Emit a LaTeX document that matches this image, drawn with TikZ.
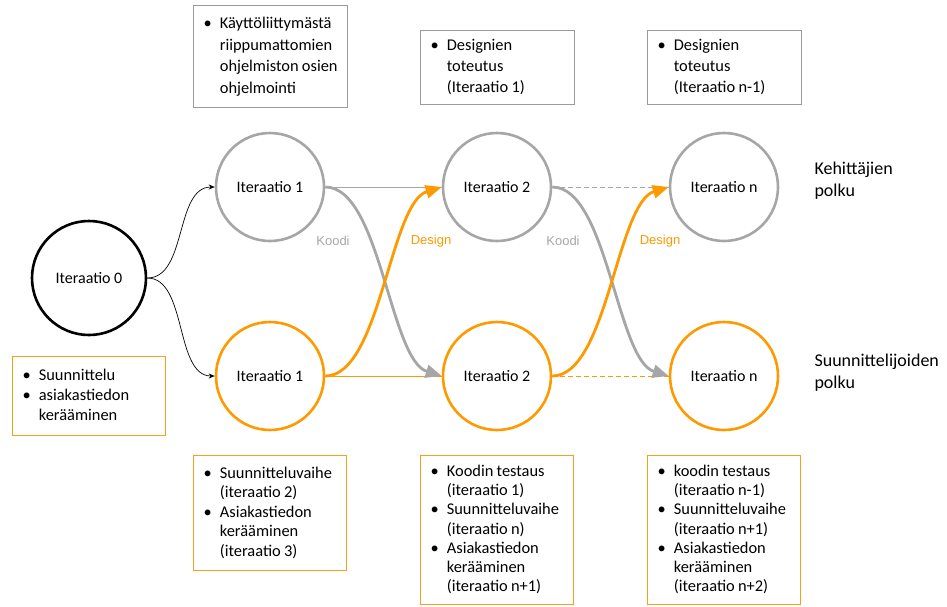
\documentclass[tikz,border=0pt]{standalone}
\usepackage{fontspec}
\setmainfont{Carlito}
\newfontfamily\flowfont{Liberation Sans}
\usetikzlibrary{arrows.meta}
\definecolor{devgray}{RGB}{166,166,166}
\definecolor{desorange}{RGB}{255,153,0}
\definecolor{boxgray}{RGB}{155,155,155}
\definecolor{boxorange}{RGB}{247,160,30}
% bullet list typeset as a two-column table
\newcommand{\blist}[2]{{\fontsize{16.4}{#1}\selectfont
  \begin{tabular}{@{}l@{\hspace{8pt}}l@{}}#2\end{tabular}}}
\begin{document}
\begin{tikzpicture}[x=1pt,y=-1pt,
  iter/.style={circle, line width=2.6pt, minimum size=#1, inner sep=0pt,
    font=\fontsize{16}{19}\selectfont},
  devnode/.style={iter=108pt, draw=devgray},
  desnode/.style={iter=108pt, draw=desorange},
  infobox/.style={draw, line width=1.4pt, inner xsep=10pt, inner ysep=0pt,
    align=left, anchor=north west, text width=#1},
  graybox/.style={infobox=134pt, draw=boxgray},
  orangebox/.style={infobox=133pt, draw=boxorange},
  thinflow/.style={line width=0.9pt},
  crossflow/.style={line width=2.8pt, -{Triangle[length=16pt,width=13pt]}},
  flowlabel/.style={font=\flowfont\fontsize{13}{15}\selectfont},
  pathlabel/.style={font=\fontsize{18}{22}\selectfont, align=left, anchor=west}]
\useasboundingbox (0,0) rectangle (947,606);

% iteration nodes
\node[iter=114pt, draw=black] (i0) at (89,278) {Iteraatio 0};
\node[devnode] (d1) at (270,187) {Iteraatio 1};
\node[devnode] (d2) at (497,187) {Iteraatio 2};
\node[devnode] (dn) at (724,187) {Iteraatio n};
\node[desnode] (s1) at (270,376) {Iteraatio 1};
\node[desnode] (s2) at (497,376) {Iteraatio 2};
\node[desnode] (sn) at (724,376) {Iteraatio n};

% path titles
\node[pathlabel] (devpath) at (811,181) {Kehittäjien\\polku};
\node[pathlabel] (despath) at (811,373) {Suunnittelijoiden\\polku};

% task boxes
\node[graybox, minimum height=102pt] (tb1) at (193,5)
  {\blist{21.5}{\textbullet & Käyttöliittymästä\\ & riippumattomien\\ & ohjelmiston osien\\ & ohjelmointi}};
\node[graybox, minimum height=74pt] (tb2) at (420,30)
  {\blist{21}{\textbullet & Designien\\ & toteutus\\ & (Iteraatio 1)}};
\node[graybox, minimum height=74pt] (tb3) at (647,30)
  {\blist{21}{\textbullet & Designien\\ & toteutus\\ & (Iteraatio n-1)}};
\node[orangebox, minimum height=79pt] (lb) at (12,356)
  {\blist{20}{\textbullet & Suunnittelu\\ \textbullet & asiakastiedon\\ & kerääminen}};
\node[orangebox, minimum height=115pt] (bb1) at (193,455)
  {\blist{19.5}{\textbullet & Suunnitteluvaihe\\ & (iteraatio 2)\\ \textbullet & Asiakastiedon\\ & kerääminen\\ & (iteraatio 3)}};
\node[orangebox, minimum height=149pt] (bb2) at (420,455)
  {\blist{19.3}{\textbullet & Koodin testaus\\ & (iteraatio 1)\\ \textbullet & Suunnitteluvaihe\\ & (iteraatio n)\\ \textbullet & Asiakastiedon\\ & kerääminen\\ & (iteraatio n+1)}};
\node[orangebox, minimum height=149pt] (bb3) at (647,455)
  {\blist{19.3}{\textbullet & koodin testaus\\ & (iteraatio n-1)\\ \textbullet & Suunnitteluvaihe\\ & (iteraatio n+1)\\ \textbullet & Asiakastiedon\\ & kerääminen\\ & (iteraatio n+2)}};

% start branches
\draw[thinflow, line width=0.7pt, -{Stealth[length=6pt,width=5pt]}]
  (i0.east) .. controls +(40,0) and +(-40,0) .. (d1.west);
\draw[thinflow, line width=0.7pt, -{Stealth[length=6pt,width=5pt]}]
  (i0.east) .. controls +(40,0) and +(-40,0) .. (s1.west);

% straight continuations
\draw[thinflow, draw=devgray] (d1.east) -- (d2.west);
\draw[thinflow, draw=desorange] (s1.east) -- (s2.west);
\draw[thinflow, draw=devgray, dash pattern=on 5pt off 3pt] (d2.east) -- (dn.west);
\draw[thinflow, draw=desorange, dash pattern=on 5pt off 3pt] (s2.east) -- (sn.west);

% crossing hand-overs
\draw[crossflow, draw=devgray]
  (d1.east) .. controls +(55,0) and +(-52,-16) .. (s2.west);
\draw[crossflow, draw=desorange]
  (s1.east) .. controls +(55,0) and +(-52,16) .. (d2.west);
\draw[crossflow, draw=devgray]
  (d2.east) .. controls +(55,0) and +(-52,-16) .. (sn.west);
\draw[crossflow, draw=desorange]
  (s2.east) .. controls +(55,0) and +(-52,16) .. (dn.west);

% hand-over labels
\node[flowlabel, text=devgray] (k1) at (333,241) {Koodi};
\node[flowlabel, text=desorange] (g1) at (431,241) {Design};
\node[flowlabel, text=devgray] (k2) at (563,241) {Koodi};
\node[flowlabel, text=desorange] (g2) at (660,241) {Design};
\end{tikzpicture}
\end{document}
